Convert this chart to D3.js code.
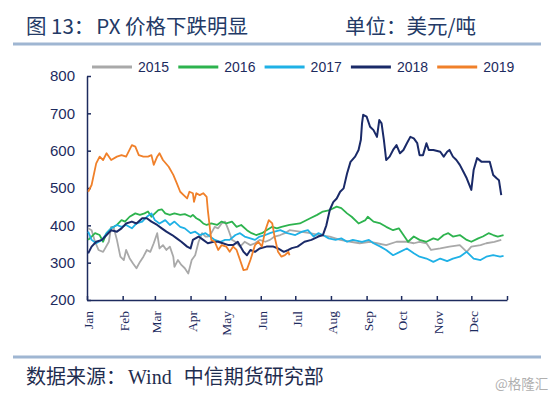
<!DOCTYPE html>
<meta charset="utf-8">
<title>PX 价格下跌明显</title>
<style>
  body { margin: 0; background: #fff; }
  svg { display: block; }
</style>
<svg width="554" height="395"></svg>
<script src="https://d3js.org/d3.v7.min.js"></script>
<script>

// price in USD/t, keyed by day of year
var px2015 = [[1,392],[4,387],[7,356],[10,334],[14,329],[19,356],[21,396],[23,396],[26,361],[29,316],[32,307],[34,334],[37,312],[40,298],[43,285],[46,302],[49,316],[52,334],[55,329],[58,352],[61,379],[63,338],[66,347],[69,334],[72,343],[75,316],[76,289],[79,307],[82,294],[85,285],[88,271],[91,307],[94,320],[97,356],[100,379],[103,370],[105,370],[108,379],[111,396],[114,392],[117,405],[120,410],[123,387],[126,361],[129,356],[133,343],[137,356],[142,347],[146,352],[150,361],[155,356],[159,361],[163,370],[168,374],[172,379],[176,387],[185,383],[194,379],[202,374],[211,370],[220,361],[229,356],[237,352],[246,356],[252,352],[260,347],[269,356],[278,356],[284,352],[289,356],[295,352],[299,334],[307,338],[315,343],[324,347],[330,329],[334,343],[342,347],[347,352],[354,356],[360,361]];

var px2016 = [[1,361],[4,370],[7,379],[11,374],[14,356],[17,379],[21,392],[26,401],[30,414],[33,410],[37,423],[42,432],[46,428],[50,432],[53,437],[56,423],[59,432],[62,441],[65,443],[68,432],[72,428],[76,432],[81,428],[85,430],[90,423],[92,428],[95,419],[98,414],[101,405],[104,401],[108,405],[113,401],[117,410],[121,405],[126,410],[130,396],[134,401],[139,387],[143,379],[147,374],[152,379],[156,387],[161,396],[165,392],[169,396],[176,401],[185,405],[194,419],[200,428],[205,437],[211,441],[217,450],[221,446],[226,432],[230,423],[236,405],[242,414],[244,423],[249,410],[255,405],[260,396],[266,387],[271,392],[275,374],[279,356],[284,370],[289,361],[295,356],[301,365],[305,361],[310,374],[314,379],[318,370],[324,374],[330,361],[334,356],[340,365],[344,370],[349,379],[353,374],[357,370],[362,374]];

var px2017 = [[1,383],[4,361],[8,352],[13,361],[17,379],[21,392],[26,401],[30,396],[34,401],[39,392],[43,405],[48,410],[52,423],[56,432],[59,414],[63,405],[68,414],[72,401],[76,410],[81,396],[85,392],[90,379],[94,383],[98,374],[103,379],[107,370],[111,361],[116,356],[120,361],[124,361],[129,374],[133,379],[137,370],[142,365],[146,361],[150,370],[155,374],[159,379],[163,383],[168,387],[174,379],[181,374],[187,383],[192,387],[197,370],[201,379],[205,374],[210,365],[216,361],[221,365],[226,356],[231,361],[239,356],[245,361],[249,352],[255,343],[260,334],[266,320],[272,329],[278,338],[284,325],[289,316],[295,311],[301,302],[307,311],[313,304],[318,311],[324,316],[330,329],[336,311],[342,307],[347,316],[353,320],[359,316],[362,318]];

var px2018 = [[1,325],[4,343],[8,356],[13,361],[17,374],[21,387],[26,383],[30,392],[34,405],[39,410],[43,405],[48,419],[52,419],[56,410],[61,401],[65,392],[69,383],[74,374],[78,365],[82,356],[87,343],[90,338],[92,361],[97,370],[101,361],[105,352],[110,356],[114,356],[118,352],[123,347],[127,347],[131,356],[136,329],[139,320],[142,334],[146,329],[150,338],[156,343],[162,343],[166,338],[171,329],[175,334],[178,339],[183,343],[189,356],[195,361],[201,370],[205,374],[208,400],[211,441],[214,462],[217,472],[220,490],[223,499],[226,539],[229,570],[233,584],[236,602],[238,629],[239,673],[240,696],[243,691],[246,664],[249,655],[252,637],[254,682],[256,673],[258,629],[260,575],[263,584],[266,602],[269,615],[272,593],[275,602],[278,620],[281,637],[284,633],[287,620],[289,588],[292,588],[295,620],[297,602],[301,602],[307,597],[310,584],[313,597],[315,602],[318,584],[321,575],[324,562],[327,544],[330,526],[334,495],[336,548],[339,580],[343,570],[347,570],[350,570],[353,535],[356,526],[358,521],[360,481]];

var px2019 = [[1,490],[4,508],[8,566],[11,584],[14,575],[17,593],[21,575],[26,584],[30,588],[34,584],[39,615],[42,611],[45,588],[49,584],[53,584],[56,588],[58,562],[61,584],[63,593],[66,575],[71,557],[75,535],[78,513],[81,490],[84,481],[87,472],[89,490],[92,486],[93,463],[95,486],[98,481],[101,486],[104,476],[105,441],[107,387],[108,361],[111,356],[114,334],[117,347],[121,343],[124,329],[127,343],[130,334],[133,307],[136,280],[139,282],[142,307],[146,347],[149,356],[152,343],[155,387],[158,414],[161,405],[163,370],[166,329],[169,316],[172,320],[175,329],[176,320]];

var years = ["2015", "2016", "2017", "2018", "2019"];
var colors = ["#a9a9a9", "#2db34e", "#1fb1e6", "#1a2a68", "#f0802a"];
var series = [px2015, px2016, px2017, px2018, px2019];

var months = ["Jan", "Feb", "Mar", "Apr", "May", "Jun", "Jul", "Aug", "Sep", "Oct", "Nov", "Dec"];
var monthStarts = [0, 31, 59, 90, 120, 151, 181, 212, 243, 273, 304, 334, 365];
var yTicks = [200, 300, 400, 500, 600, 700, 800];

var svg = d3.select("svg");
var navy = "#1d2b5e";

var x = d3.scaleLinear().domain([0, 365]).range([87, 507]);
var y = d3.scaleLinear().domain([200, 800]).range([300, 76]);

// title
var title = svg.append("text")
    .attr("x", 26).attr("y", 34)
    .style("font-family", "'Noto Sans CJK SC', sans-serif")
    .style("font-size", "20.5px")
    .style("fill", "#233a66");
title.append("tspan").text("图 13：");
title.append("tspan").attr("dx", 2).text("PX 价格下跌明显");

svg.append("text")
    .attr("x", 345).attr("y", 34)
    .style("font-family", "'Noto Sans CJK SC', sans-serif")
    .style("font-size", "20.5px")
    .style("fill", "#233a66")
    .text("单位：美元/吨");

svg.append("line")
    .attr("x1", 13).attr("x2", 541).attr("y1", 44).attr("y2", 44)
    .style("stroke", "#9fb6d2").style("stroke-width", 3);

// legend
var legend = svg.append("g").selectAll("g")
    .data(years)
    .enter().append("g")
    .attr("transform", function(d, i) { return "translate(" + (92 + i * 86.3) + ",67)"; });

legend.append("line")
    .attr("x1", 0).attr("x2", 40)
    .style("stroke", function(d, i) { return colors[i]; })
    .style("stroke-width", 2.8);

legend.append("text")
    .attr("x", 46).attr("dy", "0.35em")
    .style("font-family", "Arial, 'Liberation Sans', sans-serif")
    .style("font-size", "14px")
    .style("fill", navy)
    .text(function(d) { return d; });

// axes
var yAxis = svg.append("g")
    .attr("transform", "translate(87,0)")
    .call(d3.axisLeft(y).tickValues(yTicks).tickSizeInner(-4).tickSizeOuter(0).tickPadding(12));

yAxis.selectAll("text")
    .style("font-family", "Arial, 'Liberation Sans', sans-serif")
    .style("font-size", "15px")
    .style("fill", navy);

var xAxis = svg.append("g")
    .attr("transform", "translate(0,300)")
    .call(d3.axisBottom(x).tickValues(monthStarts).tickSizeInner(-4).tickSizeOuter(0)
        .tickFormat(function(d, i) { return months[i] || ""; }));

xAxis.selectAll("text")
    .attr("transform", "rotate(-90)")
    .attr("x", -11).attr("y", 1).attr("dy", "0.35em")
    .style("text-anchor", "end")
    .style("font-family", "'Liberation Serif', 'Times New Roman', serif")
    .style("font-size", "13.5px")
    .style("fill", navy);

svg.selectAll(".domain, .tick line")
    .style("stroke", navy)
    .style("stroke-width", 1.5);

// lines
var line = d3.line()
    .x(function(d) { return x(d[0]); })
    .y(function(d) { return y(d[1]); });

svg.append("g").selectAll("path")
    .data(series)
    .enter().append("path")
    .attr("d", line)
    .style("fill", "none")
    .style("stroke", function(d, i) { return colors[i]; })
    .style("stroke-width", function(d, i) { return i == 3 ? 2 : 1.8; })
    .style("stroke-linejoin", "round");

// footer
svg.append("line")
    .attr("x1", 13).attr("x2", 541).attr("y1", 357).attr("y2", 357)
    .style("stroke", "#9fb6d2").style("stroke-width", 3);

var src = svg.append("text")
    .attr("x", 26).attr("y", 384)
    .style("font-size", "20px")
    .style("fill", "#1f2d4f");
src.append("tspan").style("font-family", "'Noto Sans CJK SC', sans-serif").text("数据来源：");
src.append("tspan").attr("dx", 2).style("font-family", "'Liberation Serif', serif").text("Wind");
src.append("tspan").attr("dx", 12).style("font-family", "'Noto Sans CJK SC', sans-serif").text("中信期货研究部");

svg.append("text")
    .attr("x", 495).attr("y", 389)
    .style("font-family", "'Noto Sans CJK SC', sans-serif")
    .style("font-size", "13.5px")
    .style("fill", "#b0b0b0")
    .text("@格隆汇");

</script>
